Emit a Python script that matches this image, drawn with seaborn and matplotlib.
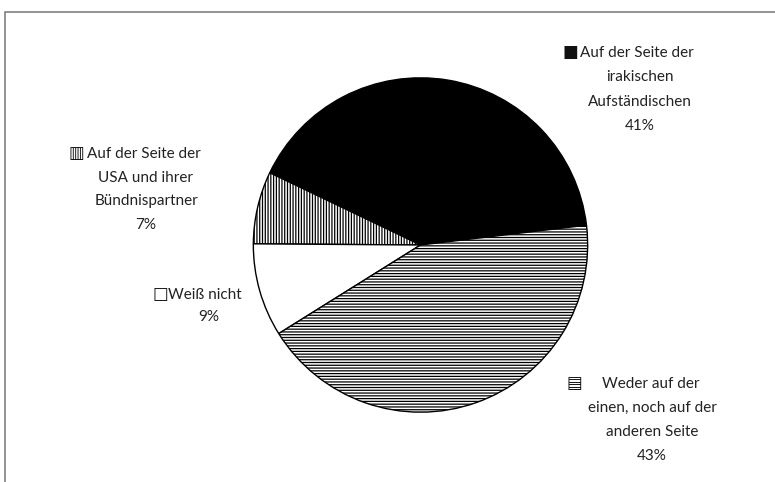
import matplotlib
matplotlib.use('Agg')
import matplotlib.pyplot as plt
import seaborn as sns
from matplotlib.patches import Rectangle

# Daten
kategorien = ['Auf der Seite der\nirakischen\nAufständischen',
              'Auf der Seite der\nUSA und ihrer\nBündnispartner',
              'Weiß nicht',
              'Weder auf der\neinen, noch auf der\nanderen Seite']
werte = [41, 7, 9, 43]
symbole = ['■', '▥', '□', '▤']

sns.set_theme(style='white')
plt.rcParams['font.family'] = ['Lato', 'DejaVu Sans']
plt.rcParams['hatch.linewidth'] = 0.9
plt.rcParams['hatch.color'] = 'black'

W, H = 775, 482
fig = plt.figure(figsize=(W / 100, H / 100), dpi=100)
fig.patch.set_facecolor('white')

# Kreis: Mittelpunkt und Radius in Pixeln
cx, cy, r = 420.5, 245, 168
ax = fig.add_axes([(cx - r) / W, (H - cy - r) / H, 2 * r / W, 2 * r / H])

farben = ['black', 'white', 'white', 'white']
schraffur = [None, '||||||', None, '------']
wedges, _ = ax.pie(werte, colors=farben, startangle=6.8, counterclock=True,
                   wedgeprops=dict(edgecolor='black', linewidth=1.0))
for w, h in zip(wedges, schraffur):
    if h:
        w.set_hatch(h)
ax.set_xlim(-1.005, 1.005)
ax.set_ylim(-1.005, 1.005)
ax.axis('off')

# Beschriftungen: (Symbol links, Text links, Mitte restl. Zeilen, erste Grundlinie, Zeilenabstand)
layout = [(562, 580, 640, 57, 24.3),
          (69, 87, 146, 158, 23.6),
          (152, 168, 209, 299, 22),
          (566, 602, 652, 388, 24)]
farbe_text = '#222222'
for lab, wert, sym, (sx, tx, mx, y0, dy) in zip(kategorien, werte, symbole, layout):
    zeilen = lab.split('\n') + [f'{wert}%']
    fig.text(sx / W, 1 - y0 / H, sym, ha='left', va='baseline',
             fontsize=12, family='DejaVu Sans', color='#111111')
    fig.text(tx / W, 1 - y0 / H, zeilen[0], ha='left', va='baseline',
             fontsize=11, color=farbe_text)
    for i, z in enumerate(zeilen[1:], start=1):
        fig.text(mx / W, 1 - (y0 + i * dy) / H, z, ha='center', va='baseline',
                 fontsize=11, color=farbe_text)

# Rahmen
fig.add_artist(Rectangle((5 / W, -0.1), 2, 1 - 11.5 / H + 0.1,
                         transform=fig.transFigure, fill=False,
                         edgecolor='#777777', linewidth=1.1))

fig.savefig('out.png', dpi=100)
